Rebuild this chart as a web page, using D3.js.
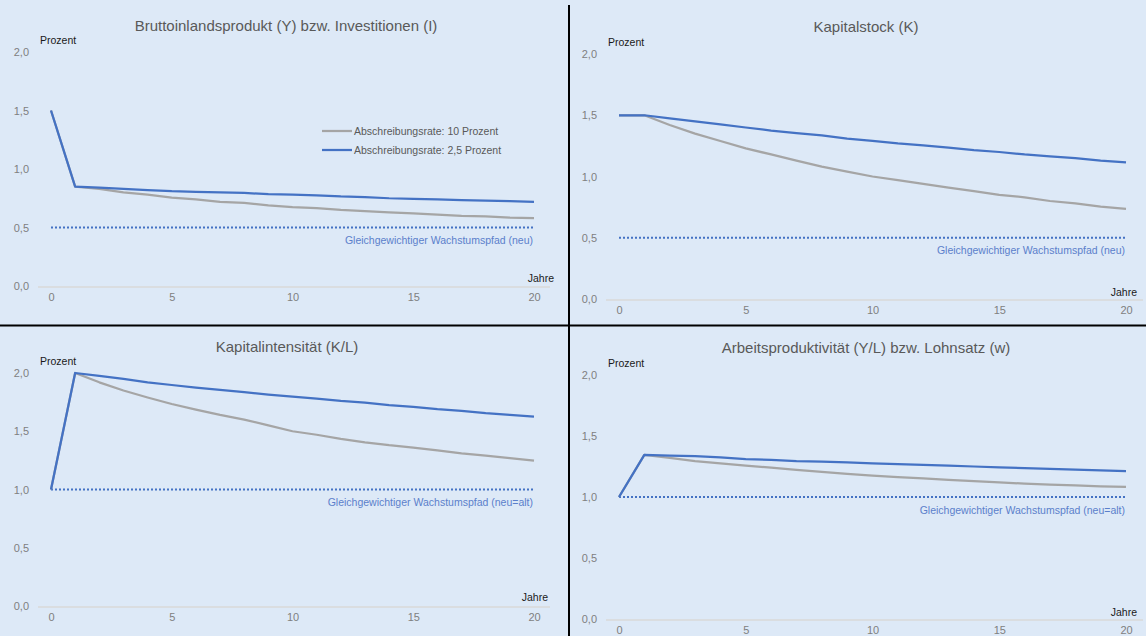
<!DOCTYPE html>
<html>
<head>
<meta charset="utf-8">
<script src="https://cdn.jsdelivr.net/npm/d3@7"></script>
<style>
  body { margin: 0; background: #dde9f7; }
  svg { display: block; font-family: "Liberation Sans", Arial, sans-serif; }
</style>
</head>
<body>
<div id="chart"></div>
<script>
// Daten
var jahre = d3.range(0, 21);
var xTicks = [0, 5, 10, 15, 20];
var yTicks = [0, 0.5, 1.0, 1.5, 2.0];

var titel = [
  "Bruttoinlandsprodukt  (Y) bzw.  Investitionen (I)",
  "Kapitalstock (K)",
  "Kapitalintensität (K/L)",
  "Arbeitsproduktivität  (Y/L) bzw.  Lohnsatz  (w)"
];
var legende = ["Abschreibungsrate: 10 Prozent", "Abschreibungsrate: 2,5 Prozent"];
var pfadLabel = [
  "Gleichgewichtiger Wachstumspfad (neu)",
  "Gleichgewichtiger Wachstumspfad (neu)",
  "Gleichgewichtiger Wachstumspfad (neu=alt)",
  "Gleichgewichtiger Wachstumspfad (neu=alt)"
];
var pfadWert = [0.5, 0.5, 1.0, 1.0];

// Abschreibungsrate 10 Prozent (grau)
var bip_10 = [1.5, 0.85, 0.83, 0.80, 0.78, 0.755, 0.74, 0.72, 0.71, 0.69, 0.675, 0.665, 0.65, 0.64, 0.63, 0.62, 0.61, 0.60, 0.595, 0.585, 0.58];
var kap_10 = [1.5, 1.5, 1.42, 1.35, 1.29, 1.23, 1.18, 1.13, 1.08, 1.04, 1.00, 0.97, 0.94, 0.91, 0.88, 0.85, 0.83, 0.80, 0.78, 0.755, 0.735];
var kint_10 = [1.0, 2.0, 1.92, 1.85, 1.79, 1.734, 1.685, 1.64, 1.60, 1.55, 1.50, 1.47, 1.435, 1.405, 1.38, 1.36, 1.335, 1.31, 1.29, 1.27, 1.247];
var prod_10 = [1.0, 1.345, 1.32, 1.295, 1.275, 1.257, 1.24, 1.222, 1.205, 1.19, 1.175, 1.163, 1.152, 1.14, 1.13, 1.12, 1.11, 1.102, 1.095, 1.088, 1.082];

// Abschreibungsrate 2,5 Prozent (blau)
var bip_25 = [1.5, 0.85, 0.84, 0.83, 0.82, 0.81, 0.805, 0.80, 0.795, 0.785, 0.78, 0.775, 0.765, 0.76, 0.75, 0.745, 0.74, 0.735, 0.73, 0.725, 0.72];
var kap_25 = [1.5, 1.5, 1.475, 1.45, 1.425, 1.40, 1.375, 1.355, 1.335, 1.31, 1.29, 1.27, 1.255, 1.235, 1.215, 1.20, 1.18, 1.165, 1.15, 1.13, 1.115];
var kint_25 = [1.0, 2.0, 1.975, 1.95, 1.92, 1.897, 1.875, 1.855, 1.835, 1.815, 1.797, 1.78, 1.76, 1.745, 1.725, 1.71, 1.69, 1.675, 1.655, 1.64, 1.625];
var prod_25 = [1.0, 1.345, 1.34, 1.335, 1.325, 1.31, 1.305, 1.295, 1.29, 1.283, 1.276, 1.27, 1.263, 1.257, 1.25, 1.243, 1.237, 1.23, 1.225, 1.218, 1.213];

var reihen10 = [bip_10, kap_10, kint_10, prod_10];
var reihen25 = [bip_25, kap_25, kint_25, prod_25];

// Layout der vier Felder (Pixel)
var felder = [
  {x0: 51,  x1: 534,  y0: 286, y1: 52,  ax1: 38,  ax2: 550,  tx: 286, ty: 26,  py: 40,  jx: 554,  jy: 278, xty: 299},
  {x0: 619, x1: 1126, y0: 299, y1: 54,  ax1: 606, ax2: 1143, tx: 866, ty: 27,  py: 42,  jx: 1137, jy: 292, xty: 312},
  {x0: 51,  x1: 534,  y0: 606, y1: 373, ax1: 38,  ax2: 550,  tx: 287, ty: 347, py: 361, jx: 548, jy: 597, xty: 619},
  {x0: 619, x1: 1126, y0: 619, y1: 375, ax1: 606, ax2: 1143, tx: 866, ty: 348, py: 363, jx: 1137, jy: 612, xty: 632}
];

var W = 1146, H = 636;
var blau = "#4472c4", grau = "#a5a5a5";
var de = d3.formatLocale({decimal: ",", thousands: ".", grouping: [3], currency: ["", " €"]});
var fmt = de.format(".1f");

var svg = d3.select("#chart").append("svg")
  .attr("width", W)
  .attr("height", H);

svg.append("rect").attr("width", W).attr("height", H).attr("fill", "#dde9f7");

felder.forEach(function(f, i) {
  var g = svg.append("g");

  var x = d3.scaleLinear().domain([0, 20]).range([f.x0, f.x1]);
  var y = d3.scaleLinear().domain([0, 2]).range([f.y0, f.y1]);

  // Titel
  g.append("text")
    .attr("x", f.tx).attr("y", f.ty)
    .attr("text-anchor", "middle").attr("dy", "0.35em")
    .attr("font-size", "15px").attr("fill", "#595959")
    .text(titel[i]);

  // y-Achse (nur Beschriftung)
  var yAxis = g.append("g")
    .attr("transform", "translate(" + (f.ax1 - 9) + ",0)")
    .call(d3.axisLeft(y).tickValues(yTicks).tickFormat(fmt).tickSize(0).tickPadding(0));
  yAxis.select(".domain").remove();
  yAxis.selectAll("text").attr("font-size", "11px").attr("fill", "#7f7f7f")
    .attr("font-family", "Liberation Sans, Arial, sans-serif");

  // x-Achse
  g.append("line")
    .attr("x1", f.ax1).attr("x2", f.ax2)
    .attr("y1", y(0) + 1).attr("y2", y(0) + 1)
    .attr("stroke", "#d9d9d9").attr("stroke-width", 1.5);
  var xAxis = g.append("g")
    .attr("transform", "translate(0," + (f.xty - 6) + ")")
    .call(d3.axisBottom(x).tickValues(xTicks).tickFormat(d3.format("d")).tickSize(0).tickPadding(0));
  xAxis.select(".domain").remove();
  xAxis.selectAll("text").attr("font-size", "11px").attr("fill", "#7f7f7f")
    .attr("font-family", "Liberation Sans, Arial, sans-serif");

  // Achsentitel
  g.append("text")
    .attr("x", f.x0 - 11).attr("y", f.py).attr("dy", "0.35em")
    .attr("font-size", "10.5px").attr("fill", "#1a1a1a")
    .text("Prozent");
  g.append("text")
    .attr("x", f.jx).attr("y", f.jy).attr("dy", "0.35em")
    .attr("text-anchor", "end")
    .attr("font-size", "10.5px").attr("fill", "#1a1a1a")
    .text("Jahre");

  // Gleichgewichtiger Pfad
  g.append("line")
    .attr("x1", x(0)).attr("x2", x(20))
    .attr("y1", y(pfadWert[i])).attr("y2", y(pfadWert[i]))
    .attr("stroke", blau).attr("stroke-width", 2)
    .attr("stroke-dasharray", "2,2");
  g.append("text")
    .attr("x", x(20) - 1).attr("y", y(pfadWert[i]) + 13).attr("dy", "0.35em")
    .attr("text-anchor", "end")
    .attr("font-size", "10.5px").attr("fill", "#5b7fcb")
    .text(pfadLabel[i]);

  var line = d3.line()
    .x(function(d, j) { return x(jahre[j]); })
    .y(function(d) { return y(d); });

  g.append("path")
    .attr("d", line(reihen10[i]))
    .attr("fill", "none").attr("stroke", grau)
    .attr("stroke-width", 2.25).attr("stroke-linejoin", "round");
  g.append("path")
    .attr("d", line(reihen25[i]))
    .attr("fill", "none").attr("stroke", blau)
    .attr("stroke-width", 2.25).attr("stroke-linejoin", "round");

  // Legende nur im ersten Feld
  if (i === 0) {
    [grau, blau].forEach(function(c, k) {
      var ly = 131 + k * 19;
      g.append("line")
        .attr("x1", 322).attr("x2", 352)
        .attr("y1", ly).attr("y2", ly)
        .attr("stroke", c).attr("stroke-width", 2.25);
      g.append("text")
        .attr("x", 354).attr("y", ly).attr("dy", "0.35em")
        .attr("font-size", "10.5px").attr("fill", "#595959")
        .text(legende[k]);
    });
  }
});

// Trennlinien
svg.append("line")
  .attr("x1", 0).attr("x2", W).attr("y1", 325.5).attr("y2", 325.5)
  .attr("stroke", "#000").attr("stroke-width", 2);
svg.append("line")
  .attr("x1", 569).attr("x2", 569).attr("y1", 5).attr("y2", H)
  .attr("stroke", "#000").attr("stroke-width", 2);
</script>
</body>
</html>
